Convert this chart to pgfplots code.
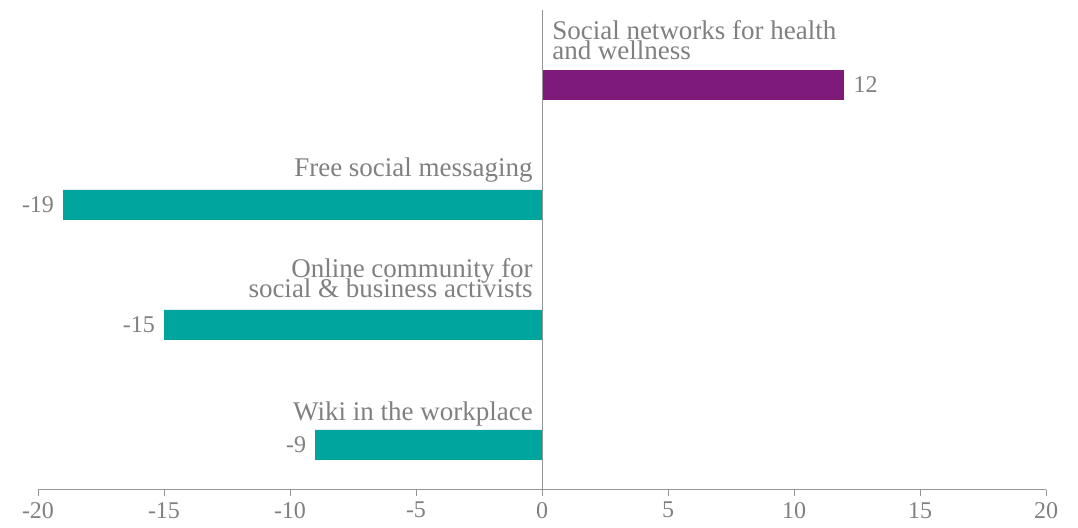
\documentclass[border=0pt]{standalone}
\usepackage{pgfplots}
\pgfplotsset{compat=1.18}
\usepackage{fontspec}
\setmainfont{Liberation Serif}
\definecolor{purp}{RGB}{126,27,122}
\definecolor{tealb}{RGB}{0,166,158}
\definecolor{txt}{RGB}{128,128,128}
\definecolor{axc}{RGB}{150,150,150}
\newcommand\lblfont{\fontsize{27}{20}\selectfont\setlength{\lineskiplimit}{-50pt}\setlength{\lineskip}{0pt}}
\begin{document}
\begin{tikzpicture}[x=1pt,y=1pt]
\path[use as bounding box] (0,0) rectangle (1078,527);
\begin{axis}[
  at={(38pt,37pt)}, anchor=south west,
  scale only axis, width=1008pt, height=480pt,
  xmin=-20, xmax=20, ymin=0, ymax=480,
  axis y line=none,
  axis x line*=bottom,
  x axis line style={axc, line width=1pt, -},
  xtick={-20,-15,...,20},
  tick align=outside,
  major tick length=6pt,
  x tick style={axc, line width=1pt},
  ytick=\empty,
  xticklabel style={txt, font=\fontsize{24}{24}\selectfont, inner sep=0pt, anchor=north, yshift=-6pt},
  /pgf/number format/assume math mode=true,
  xbar, bar width=30pt, bar shift=0pt,
  clip=false,
  nodes near coords,
  nodes near coords style={txt, font=\fontsize{24}{24}\selectfont, inner sep=9pt},
]
\addplot[fill=purp, draw=none, bar shift=0pt] coordinates {(12,405)};
\addplot[fill=tealb, draw=none, bar shift=0pt] coordinates {(-19,285) (-15,165) (-9,45)};
\draw[axc, line width=1pt] (axis cs:0,0) -- (axis cs:0,480);
\begin{scope}[every node/.style={txt, font=\lblfont, inner sep=0pt}]
\node[anchor=south west, align=left] at (axis cs:0.4,430) {Social networks for health\\and wellness};
\node[anchor=base east] at (axis cs:-0.36,313) {Free social messaging};
\node[anchor=south east, align=right] at (axis cs:-0.36,192) {Online community for\\social \& business activists};
\node[anchor=base east] at (axis cs:-0.36,69) {Wiki in the workplace};
\end{scope}
\end{axis}
\end{tikzpicture}
\end{document}
